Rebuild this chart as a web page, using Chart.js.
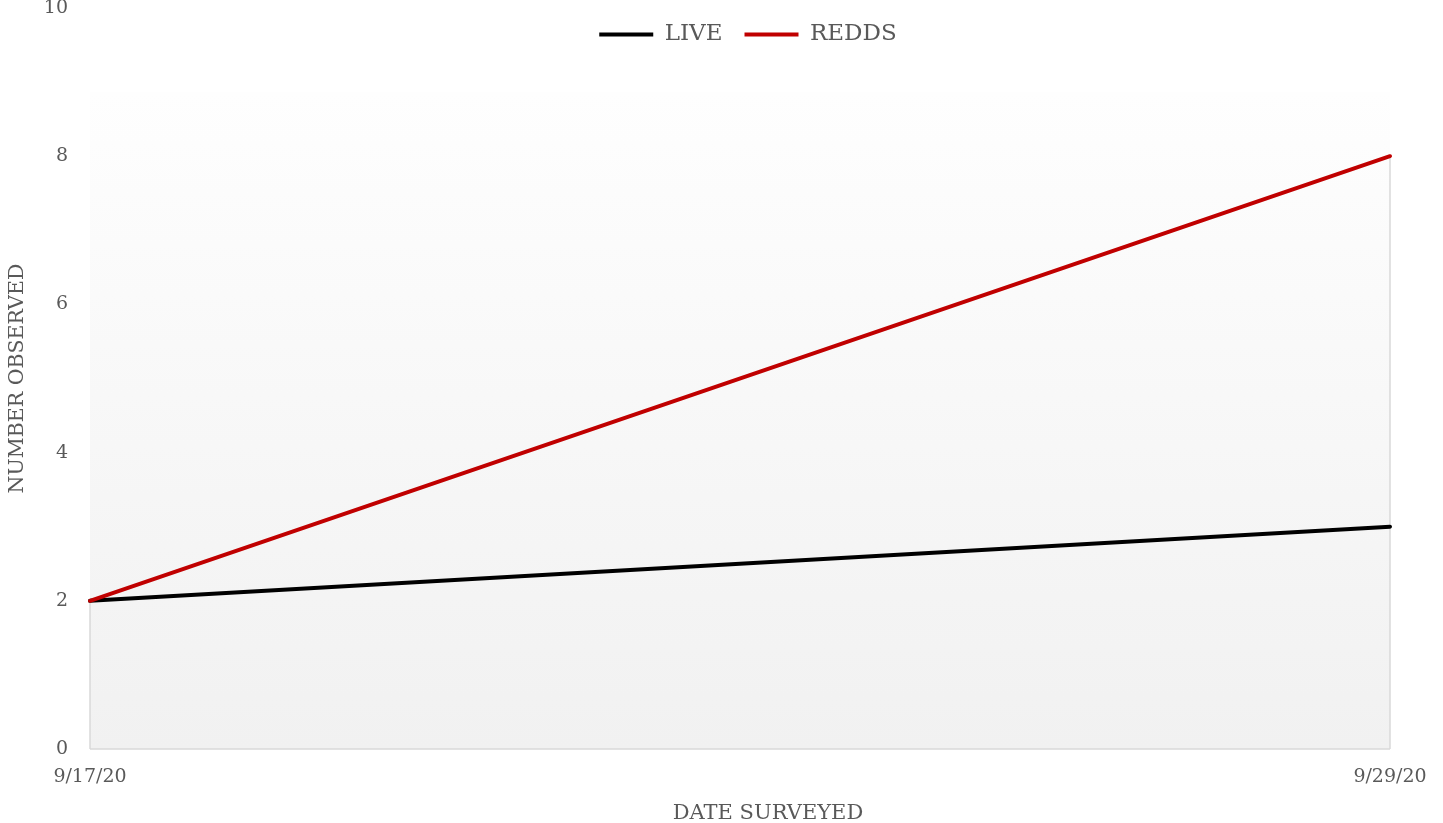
<!DOCTYPE html>
<html>
<head>
<meta charset="utf-8">
<title>Live fish and redds observed</title>
<script src="https://cdn.jsdelivr.net/npm/chart.js@4/dist/chart.umd.min.js"></script>
<style>
  html, body { margin: 0; padding: 0; background: #ffffff; }
  canvas { display: block; }
</style>
</head>
<body>
<canvas id="surveyChart" width="1443" height="823"></canvas>
<script>
// survey dates and counts
const surveyDates = ["9/17/20", "9/29/20"];
const liveCounts = [2, 3];
const reddCounts = [2, 8];
const yMin = 0;
const yMax = 10;
const yStep = 2;

Chart.defaults.font.family = "'DejaVu Serif', serif";
Chart.defaults.color = "#595959";

// shaded plot box, drop lines and a legend that floats over the plot
const plotBox = {
    id: "plotBox",
    beforeUpdate(chart) {
        const legend = chart.legend;
        if (legend && !legend._floating) {
            const fit = legend.fit;
            legend.fit = function () {
                fit.call(this);
                this._fullHeight = this.height;
                this.height = 0;
            };
            legend._floating = true;
        }
    },
    afterLayout(chart) {
        const legend = chart.legend;
        if (legend) {
            legend.top -= 7;
            legend.bottom = legend.top + (legend._fullHeight || 0);
            legend.left += 8;
            legend.right += 8;
        }
        // axis title sits a little right of the plot centre
        const x = chart.scales.x;
        x.left += 28;
        x.right += 28;
    },
    beforeDraw(chart) {
        const { ctx, chartArea } = chart;
        const top = chartArea.top + 84;
        const grad = ctx.createLinearGradient(0, top, 0, chartArea.bottom);
        grad.addColorStop(0, "#fefefe");
        grad.addColorStop(1, "#f1f1f1");
        ctx.save();
        ctx.fillStyle = grad;
        ctx.fillRect(chartArea.left, top, chartArea.right - chartArea.left, chartArea.bottom - top);
        ctx.restore();
    },
    beforeDatasetsDraw(chart) {
        const { ctx, chartArea, scales } = chart;
        ctx.save();
        ctx.strokeStyle = "#d9d9d9";
        ctx.lineWidth = 1.5;
        ctx.beginPath();
        ctx.moveTo(chartArea.left, chartArea.bottom);
        ctx.lineTo(chartArea.right, chartArea.bottom);
        ctx.stroke();
        surveyDates.forEach(function (d, i) {
            const px = scales.x.getPixelForValue(i);
            const peak = Math.max(liveCounts[i], reddCounts[i]);
            ctx.beginPath();
            ctx.moveTo(px, scales.y.getPixelForValue(peak));
            ctx.lineTo(px, chartArea.bottom);
            ctx.stroke();
        });
        ctx.restore();
    }
};

const ctx = document.getElementById("surveyChart").getContext("2d");

new Chart(ctx, {
    type: "line",
    data: {
        labels: surveyDates,
        datasets: [
            {
                label: "LIVE",
                data: liveCounts,
                borderColor: "#000000",
                backgroundColor: "#000000",
                borderWidth: 4,
                borderCapStyle: "round",
                pointRadius: 0,
                clip: false,
                order: 1
            },
            {
                label: "REDDS",
                data: reddCounts,
                borderColor: "#c00000",
                backgroundColor: "#c00000",
                borderWidth: 4,
                borderCapStyle: "round",
                pointRadius: 0,
                clip: false,
                order: 0
            }
        ]
    },
    options: {
        responsive: false,
        animation: false,
        layout: {
            padding: { top: 0, right: 53, bottom: 0, left: 5 }
        },
        plugins: {
            legend: {
                position: "top",
                align: "center",
                fullSize: false,
                labels: {
                    usePointStyle: true,
                    pointStyle: "line",
                    pointStyleWidth: 54,
                    padding: 22,
                    color: "#595959",
                    font: { size: 23 },
                    sort: function (a, b) { return a.datasetIndex - b.datasetIndex; }
                }
            },
            tooltip: { enabled: false }
        },
        scales: {
            x: {
                type: "category",
                offset: false,
                grid: { display: false },
                border: { display: false },
                ticks: {
                    maxRotation: 0,
                    padding: 9,
                    font: { size: 19 }
                },
                title: {
                    display: true,
                    text: "DATE SURVEYED",
                    font: { size: 21, lineHeight: 0.9 },
                    padding: { top: 10, bottom: 0 }
                },
                afterFit: function (scale) {
                    scale.height = 74;
                }
            },
            y: {
                min: yMin,
                max: yMax,
                grid: { display: false },
                border: { display: false },
                ticks: {
                    stepSize: yStep,
                    padding: 14,
                    font: { size: 19 }
                },
                title: {
                    display: true,
                    text: "NUMBER OBSERVED",
                    font: { size: 20.5 },
                    padding: { top: 0, bottom: 10 }
                },
                afterFit: function (scale) {
                    scale.width = 85;
                    scale.paddingTop = 8;
                }
            }
        }
    },
    plugins: [plotBox]
});
</script>
</body>
</html>
